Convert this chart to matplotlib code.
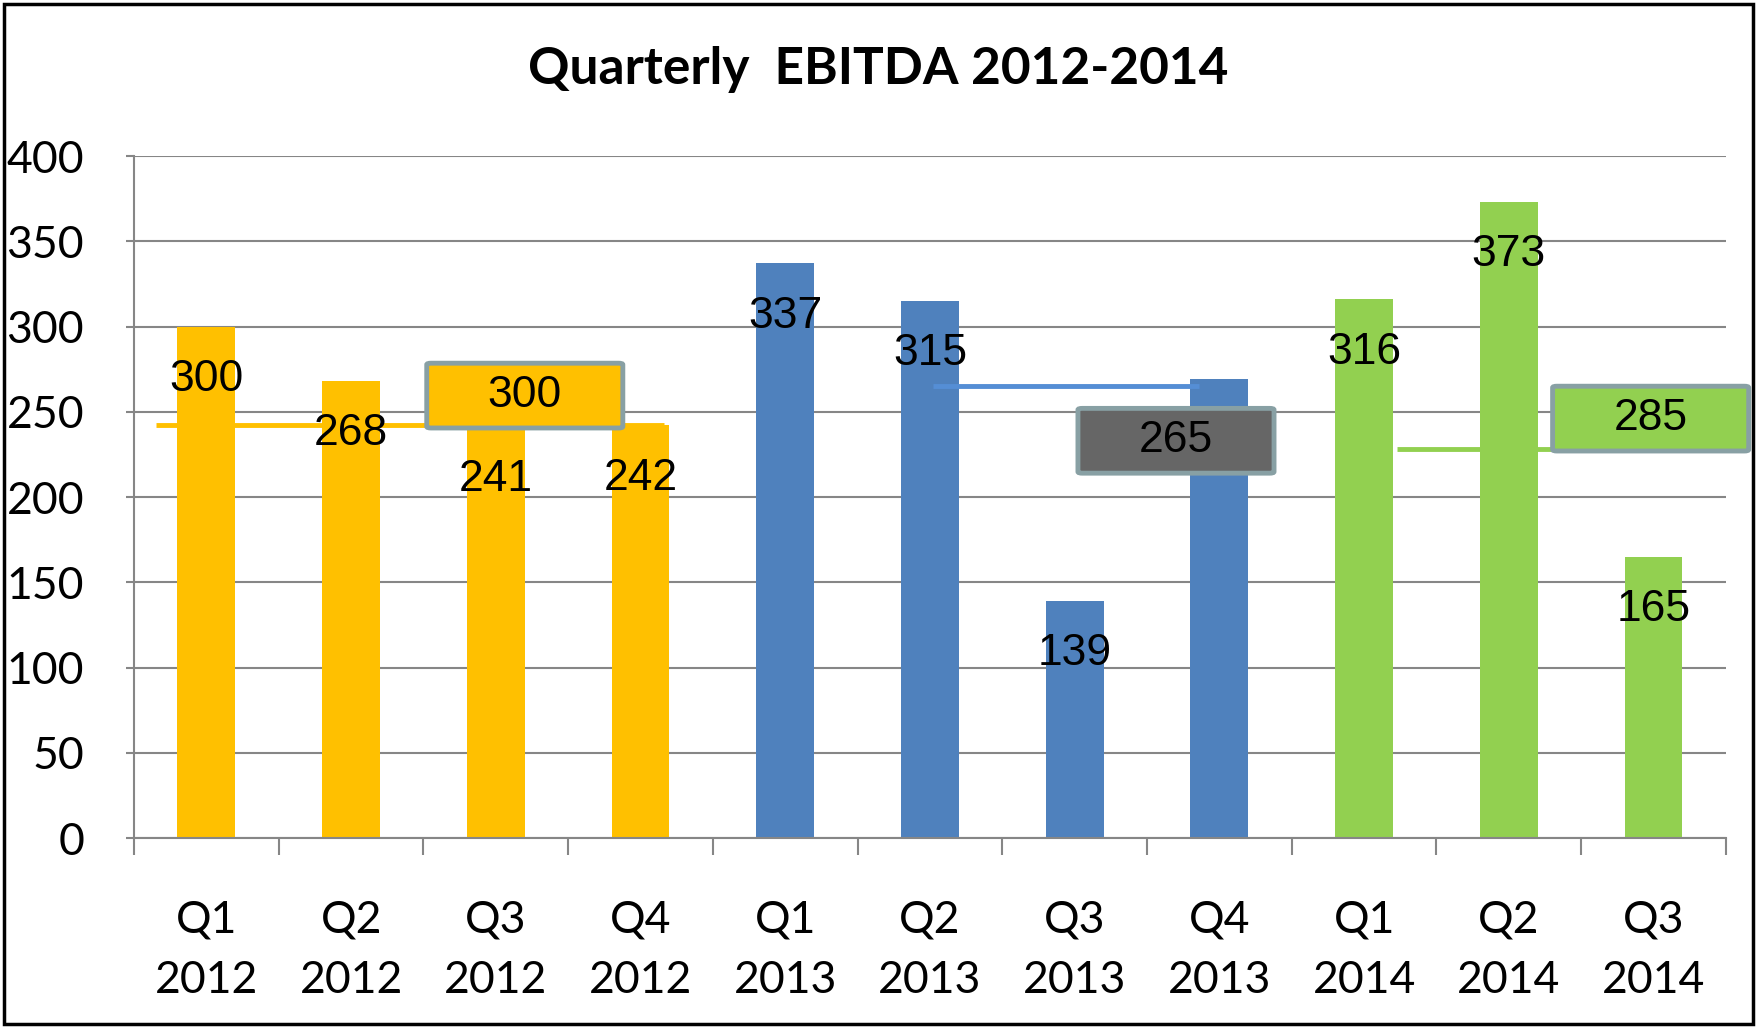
import matplotlib.pyplot as plt
import matplotlib.patches as patches
import numpy as np

quarters = ['Q1\n2012', 'Q2\n2012', 'Q3\n2012', 'Q4\n2012',
            'Q1\n2013', 'Q2\n2013', 'Q3\n2013', 'Q4\n2013',
            'Q1\n2014', 'Q2\n2014', 'Q3\n2014']
ebitda = [300, 268, 241, 242, 337, 315, 139, 269, 316, 373, 165]
year_of = [2012, 2012, 2012, 2012, 2013, 2013, 2013, 2013, 2014, 2014, 2014]

years = [2012, 2013, 2014]
year_colors = ['#FFC000', '#4F81BD', '#92D050']
line_colors = ['#FFC000', '#558ED5', '#92D050']
# level lines (value, from, to in category units)
line_level = [242, 265, 228]
line_from = [-0.35, 5.02, 8.23]
line_to = [3.16, 6.86, 10.19]
# boxed figures
box_text = ['300', '265', '285']
box_x = [2.2, 6.70, 9.98]
box_y = [259.5, 233, 246]
box_fill = ['#FFC000', '#666666', '#92D050']

calib = ['Lato', 'DejaVu Sans']
arial = ['Liberation Sans', 'DejaVu Sans']

fig = plt.figure(figsize=(17.57, 10.28), dpi=100)
ax = fig.add_axes([0.0763, 0.1848, 0.906, 0.6634])

x = np.arange(len(quarters))
colors = [year_colors[years.index(y)] for y in year_of]
ax.bar(x, ebitda, width=0.4, color=colors, zorder=2)

for i, v in enumerate(ebitda):
    ax.text(i, v - 31, str(v), ha='center', va='center', fontsize=32,
            family=arial, color='black', zorder=4)

for k in range(len(years)):
    ax.plot([line_from[k], line_to[k]], [line_level[k], line_level[k]],
            color=line_colors[k], lw=3.5, zorder=3, solid_capstyle='butt')

bw, bh = 1.355, 38
for k in range(len(box_text)):
    p = patches.FancyBboxPatch((box_x[k] - bw / 2, box_y[k] - bh / 2), bw, bh,
                               boxstyle='round,pad=0,rounding_size=0.03',
                               mutation_aspect=30,
                               facecolor=box_fill[k], edgecolor='#88A0A4',
                               lw=3.5, zorder=5, clip_on=False)
    ax.add_patch(p)
    ax.text(box_x[k], box_y[k], box_text[k], ha='center', va='center',
            fontsize=32, family=arial, color='black', zorder=6, clip_on=False)

ax.set_xlim(-0.5, 10.5)
ax.set_ylim(0, 400)
ax.set_yticks(np.arange(0, 401, 50))
ax.set_xticks(x)
ax.set_xticklabels(quarters, family=calib, fontsize=32, linespacing=1.6)
for lab in ax.get_yticklabels():
    lab.set_family(calib)
    lab.set_fontsize(32)
ax.set_xticks(np.arange(-0.5, 11, 1), minor=True)
ax.tick_params(axis='x', which='major', length=0, pad=44)
ax.tick_params(axis='x', which='minor', length=12, width=1.5, color='#868686')
ax.tick_params(axis='y', length=6, width=1.5, color='#868686', pad=30)

ax.grid(axis='y', color='#868686', lw=1.5, zorder=0)
ax.set_axisbelow(True)
for s in ['top', 'right']:
    ax.spines[s].set_visible(False)
for s in ['left', 'bottom']:
    ax.spines[s].set_color('#868686')
    ax.spines[s].set_linewidth(1.5)

fig.text(0.5, 0.932, 'Quarterly  EBITDA 2012-2014', ha='center', va='center',
         fontsize=37, fontweight='bold', family=calib)

fig.patches.append(patches.Rectangle((0.002, 0.004), 0.996, 0.992,
                                     transform=fig.transFigure, fill=False,
                                     edgecolor='black', lw=2.5))

fig.savefig('out.png', dpi=100)
